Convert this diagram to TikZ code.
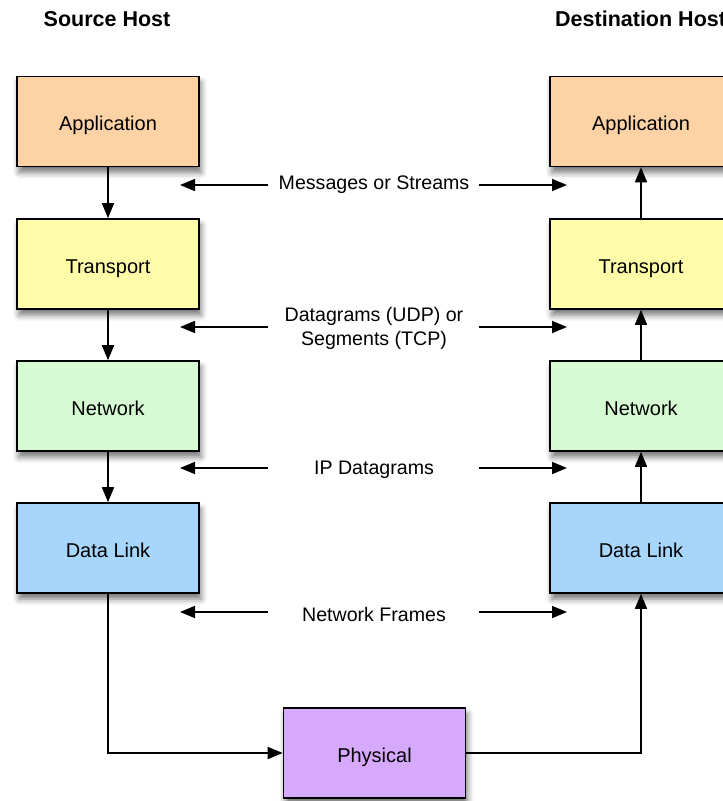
\documentclass[tikz,border=0pt]{standalone}
\usepackage{fontspec}
\setmainfont{Liberation Sans}
\usetikzlibrary{arrows.meta,shadows.blur}

\definecolor{appcol}{HTML}{FDD3A6}
\definecolor{trncol}{HTML}{FEFCA8}
\definecolor{netcol}{HTML}{D6FBD3}
\definecolor{lnkcol}{HTML}{A7D5FC}
\definecolor{phycol}{HTML}{D7A9FC}

\tikzset{
  layer/.style={draw=black, line width=1.6pt, minimum width=182pt, minimum height=90pt,
    inner sep=0pt, text height=18pt, text depth=0pt, font=\fontsize{20}{23}\selectfont,
    blur shadow={shadow xshift=2pt, shadow yshift=-6pt, shadow blur radius=6pt, shadow opacity=55}},
  flow/.style={line width=1.6pt, -{Triangle[length=15pt,width=12pt]}},
  unit/.style={font=\fontsize{19.6}{24}\selectfont, align=center, inner sep=0pt},
  host/.style={font=\fontsize{21.5}{24}\selectfont\bfseries, inner sep=0pt}
}

\begin{document}
\begin{tikzpicture}[x=1pt, y=-1pt]
\useasboundingbox (0,0) rectangle (723,801);
\clip (0,0) rectangle (723,801);

% host titles
\node[host] (srctitle) at (107,19) {Source Host};
\node[host, anchor=west] (dsttitle) at (555,19) {Destination Host};

% source stack
\node[layer, fill=appcol] (sapp) at (108,121.5) {Application};
\node[layer, fill=trncol] (strn) at (108,264) {Transport};
\node[layer, fill=netcol] (snet) at (108,406) {Network};
\node[layer, fill=lnkcol] (slnk) at (108,548) {Data Link};

% destination stack
\node[layer, fill=appcol] (dapp) at (641,121.5) {Application};
\node[layer, fill=trncol] (dtrn) at (641,264) {Transport};
\node[layer, fill=netcol] (dnet) at (641,406) {Network};
\node[layer, fill=lnkcol] (dlnk) at (641,548) {Data Link};

% physical medium
\node[layer, fill=phycol] (phy) at (374.5,753) {Physical};

% downward flow through the source stack
\draw[flow] (sapp) -- (strn);
\draw[flow] (strn) -- (snet);
\draw[flow] (snet) -- (slnk);

% upward flow through the destination stack
\draw[flow] (dlnk) -- (dnet);
\draw[flow] (dnet) -- (dtrn);
\draw[flow] (dtrn) -- (dapp);

% across the physical link
\draw[flow] (slnk.south) |- (phy.west);
\draw[flow] (phy.east) -| (dlnk.south);

% peer-to-peer data units
\node[unit] (msg) at (374,184.5) {Messages or Streams};
\node[unit] (seg) at (374,328) {Datagrams (UDP) or\\Segments (TCP)};
\node[unit] (ipd) at (374,470) {IP Datagrams};
\node[unit] (frm) at (374,614) {Network Frames};

\foreach \lbl/\yy in {msg/185, seg/327, ipd/468, frm/612} {
  \coordinate (\lbl-l) at (268,\yy);
  \coordinate (\lbl-r) at (479,\yy);
  \coordinate (\lbl-lt) at (180,\yy);
  \coordinate (\lbl-rt) at (567,\yy);
  \draw[flow] (\lbl-l) -- (\lbl-lt);
  \draw[flow] (\lbl-r) -- (\lbl-rt);
}
\end{tikzpicture}
\end{document}
